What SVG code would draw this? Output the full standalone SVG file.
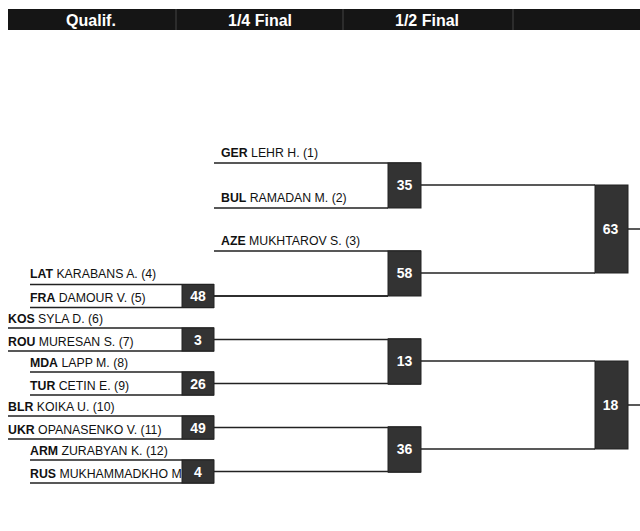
<svg xmlns="http://www.w3.org/2000/svg" width="640" height="531" viewBox="0 0 640 531">
<style>
text{font-family:"Liberation Sans",Arial,sans-serif}
.hd{fill:#fff;font-size:16px;font-weight:bold;text-anchor:middle}
.nm{fill:#111;font-size:12.3px}
.cc{font-weight:bold}
.ln{stroke:#222;stroke-width:1.5;fill:none}
.bx{fill:#333;stroke:#222;stroke-width:1}
.sc{fill:#fff;font-size:14px;font-weight:bold;text-anchor:middle}
</style>
<rect width="640" height="531" fill="#fff"/>
<g id="header">
<rect x="8" y="9" width="632" height="21" fill="#151515"/>
<line x1="176" y1="9" x2="176" y2="30" stroke="#444"/>
<line x1="343" y1="9" x2="343" y2="30" stroke="#444"/>
<line x1="513" y1="9" x2="513" y2="30" stroke="#444"/>
<text class="hd" x="91" y="25.5">Qualif.</text>
<text class="hd" x="260" y="25.5">1/4 Final</text>
<text class="hd" x="427" y="25.5">1/2 Final</text>
</g>
<g id="connectors" class="ln">
<path d="M214 296H388"/>
<path d="M214 339.5H388"/>
<path d="M214 383.5H388"/>
<path d="M214 427.5H388"/>
<path d="M214 471.5H388"/>
<path d="M421 185H595"/>
<path d="M421 273H595"/>
<path d="M421 361H595"/>
<path d="M421 449H595"/>
<path d="M628 229H640"/>
<path d="M628 405H640"/>
</g>
<g id="q1">
<text class="nm" x="30" y="277.5"><tspan class="cc">LAT</tspan> KARABANS A. (4)</text>
<text class="nm" x="30" y="301.5"><tspan class="cc">FRA</tspan> DAMOUR V. (5)</text>
<path class="ln" d="M30 284.5H214M30 307.5H214"/>
<rect class="bx" x="182" y="284.5" width="32" height="23"/>
<text class="sc" x="198" y="301">48</text>
</g>
<g id="q2">
<text class="nm" x="8" y="322.5"><tspan class="cc">KOS</tspan> SYLA D. (6)</text>
<text class="nm" x="8" y="345.5"><tspan class="cc">ROU</tspan> MURESAN S. (7)</text>
<path class="ln" d="M8 328H214M8 351H214"/>
<rect class="bx" x="182" y="328" width="32" height="23"/>
<text class="sc" x="198" y="344.5">3</text>
</g>
<g id="q3">
<text class="nm" x="30" y="366.5"><tspan class="cc">MDA</tspan> LAPP M. (8)</text>
<text class="nm" x="30" y="389.5"><tspan class="cc">TUR</tspan> CETIN E. (9)</text>
<path class="ln" d="M30 372H214M30 395H214"/>
<rect class="bx" x="182" y="372" width="32" height="23"/>
<text class="sc" x="198" y="388.5">26</text>
</g>
<g id="q4">
<text class="nm" x="8" y="410.5"><tspan class="cc">BLR</tspan> KOIKA U. (10)</text>
<text class="nm" x="8" y="433.5"><tspan class="cc">UKR</tspan> OPANASENKO V. (11)</text>
<path class="ln" d="M8 416H214M8 439H214"/>
<rect class="bx" x="182" y="416" width="32" height="23"/>
<text class="sc" x="198" y="432.5">49</text>
</g>
<g id="q5">
<text class="nm" x="30" y="454.5"><tspan class="cc">ARM</tspan> ZURABYAN K. (12)</text>
<text class="nm" x="30" y="477.5"><tspan class="cc">RUS</tspan> MUKHAMMADKHO M</text>
<path class="ln" d="M30 460H214M30 483H214"/>
<rect class="bx" x="182" y="460" width="32" height="23"/>
<text class="sc" x="198" y="476.5">4</text>
</g>
<g id="qf1">
<text class="nm" x="221" y="156.5"><tspan class="cc">GER</tspan> LEHR H. (1)</text>
<text class="nm" x="221" y="201.5"><tspan class="cc">BUL</tspan> RAMADAN M. (2)</text>
<path class="ln" d="M214 163H421M214 208H388"/>
<rect class="bx" x="388" y="163" width="33" height="45"/>
<text class="sc" x="404.5" y="190">35</text>
</g>
<g id="qf2">
<text class="nm" x="221" y="244.5"><tspan class="cc">AZE</tspan> MUKHTAROV S. (3)</text>
<path class="ln" d="M214 251H421M214 296H388"/>
<rect class="bx" x="388" y="251" width="33" height="45"/>
<text class="sc" x="404.5" y="278">58</text>
</g>
<g id="qf3">
<path class="ln" d="M388 339H421M388 384H421"/>
<rect class="bx" x="388" y="339" width="33" height="45"/>
<text class="sc" x="404.5" y="366">13</text>
</g>
<g id="qf4">
<path class="ln" d="M388 427H421M388 472H421"/>
<rect class="bx" x="388" y="427" width="33" height="45"/>
<text class="sc" x="404.5" y="454">36</text>
</g>
<g id="sf1">
<rect class="bx" x="595" y="185" width="33" height="88"/>
<text class="sc" x="610.5" y="234">63</text>
</g>
<g id="sf2">
<rect class="bx" x="595" y="361" width="33" height="88"/>
<text class="sc" x="610.5" y="410">18</text>
</g>
</svg>
